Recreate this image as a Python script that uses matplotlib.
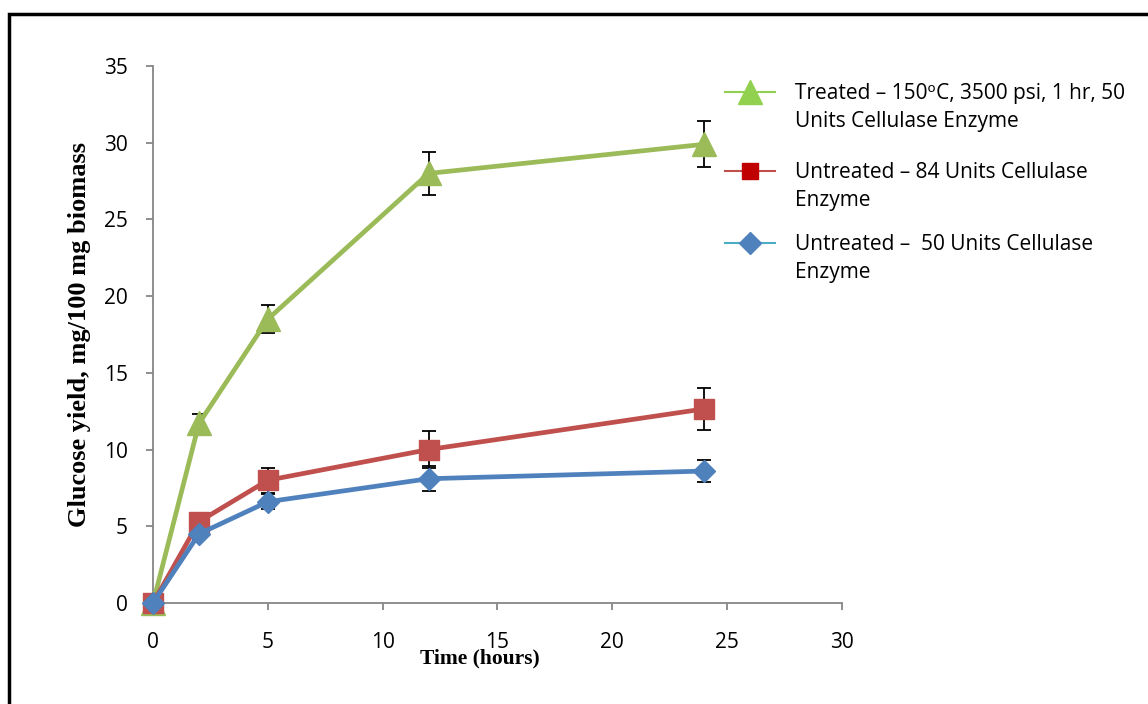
import matplotlib
matplotlib.use("Agg")
import matplotlib.pyplot as plt
from matplotlib.lines import Line2D
from matplotlib.patches import Rectangle

# Sampling times (hours)
time_h = [0, 2, 5, 12, 24]

# Glucose yield, mg / 100 mg biomass
treated_150c = [0, 11.7, 18.5, 28.0, 29.9]
treated_150c_err = [0, 0.6, 0.9, 1.4, 1.5]

untreated_84u = [0, 5.3, 8.0, 10.0, 12.65]
untreated_84u_err = [0, 0.3, 0.8, 1.2, 1.35]

untreated_50u = [0, 4.5, 6.6, 8.1, 8.6]
untreated_50u_err = [0, 0.3, 0.5, 0.8, 0.7]

labels = [
    "Treated \u2013 150\u1d52C, 3500 psi, 1 hr, 50\nUnits Cellulase Enzyme",
    "Untreated \u2013 84 Units Cellulase\nEnzyme",
    "Untreated \u2013  50 Units Cellulase\nEnzyme",
]
x_ticks = [0, 5, 10, 15, 20, 25, 30]
y_ticks = [0, 5, 10, 15, 20, 25, 30, 35]

plt.rcParams['font.family'] = ['Open Sans', 'DejaVu Sans']

W, H = 1148, 704
fig = plt.figure(figsize=(W / 100, H / 100), dpi=100)
ax = fig.add_axes([0.1333, 0.1435, 0.6001, 0.7627])

# outer frame of the chart area
fig.patches.append(Rectangle((9 / W, -0.05), 1.1, 1 - 14 / H + 0.05,
                             transform=fig.transFigure, fill=False,
                             edgecolor='black', linewidth=2.5, clip_on=False))

series = [
    (treated_150c, treated_150c_err, '#9BBB59', '^', 17),
    (untreated_84u, untreated_84u_err, '#C0504D', 's', 14),
    (untreated_50u, untreated_50u_err, '#4F81BD', 'D', 11),
]
for vals, errs, col, mk, ms in series:
    ax.errorbar(time_h, vals, yerr=errs, fmt='none', ecolor='black',
                elinewidth=1.3, capsize=5, capthick=1.3, zorder=2, clip_on=False)
    ax.plot(time_h, vals, color=col, linewidth=3.4, marker=mk, markersize=ms,
            markerfacecolor=col, markeredgecolor=col, zorder=3, clip_on=False)

ax.set_xlim(0, 30)
ax.set_ylim(0, 35)
ax.set_xticks(x_ticks)
ax.set_yticks(y_ticks)
for s in ['top', 'right']:
    ax.spines[s].set_visible(False)
for s in ['left', 'bottom']:
    ax.spines[s].set_color('#868686')
    ax.spines[s].set_linewidth(1.3)
ax.tick_params(axis='both', colors='#868686', labelcolor='black', length=5,
               width=1.3, labelsize=15)
ax.tick_params(axis='x', pad=16)
ax.tick_params(axis='y', pad=13)

ax.set_xlabel("Time (hours)", fontfamily='Liberation Serif', fontweight='bold',
              fontsize=15.5)
ax.xaxis.set_label_coords(0.475, -0.085)
ax.set_ylabel("Glucose yield, mg/100 mg biomass", fontfamily='Liberation Serif',
              fontweight='bold', fontsize=19)
ax.yaxis.set_label_coords(-0.09, 0.5)

# legend: key sits beside the first line of each two-line label
legend_keys = [
    ('#92D050', '#92D050', '^', 17),
    ('#C0504D', '#C00000', 's', 12),
    ('#4BACC6', '#4F81BD', 'D', 11),
]
entry_y = [92, 171, 243]
for (lc, mc, mk, ms), label, yp in zip(legend_keys, labels, entry_y):
    yf = 1 - yp / H
    fig.add_artist(Line2D([725 / W, 775 / W], [yf, yf], color=lc, lw=1.5,
                          transform=fig.transFigure))
    fig.add_artist(Line2D([750 / W], [yf], marker=mk, markersize=ms,
                          markerfacecolor=mc, markeredgecolor=mc, linestyle='none',
                          transform=fig.transFigure))
    fig.text(795 / W, 1 - (yp - 9) / H, label, fontsize=15, va='top', ha='left',
             linespacing=1.45, transform=fig.transFigure)

fig.savefig("out.png", dpi=100)
